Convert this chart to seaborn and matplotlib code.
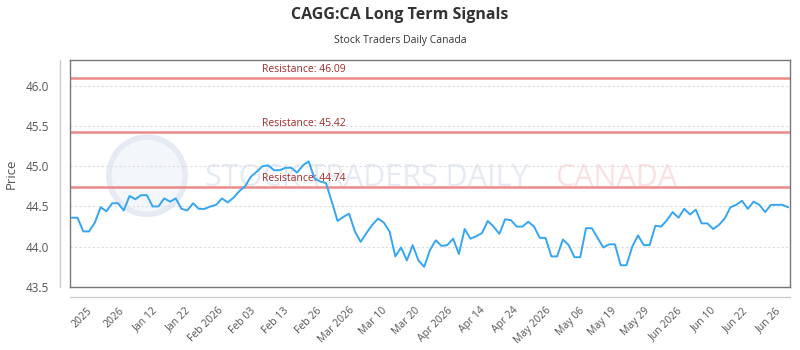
import numpy as np
import pandas as pd
import matplotlib.pyplot as plt
import seaborn as sns
from matplotlib.lines import Line2D
from matplotlib.patches import Ellipse

# Precio de cierre
precios = [44.36, 44.36, 44.19, 44.19, 44.30, 44.49, 44.44, 44.54, 44.54, 44.45,
           44.63, 44.59, 44.64, 44.64, 44.50, 44.50, 44.60, 44.56, 44.60, 44.47,
           44.45, 44.54, 44.47, 44.47, 44.50, 44.52, 44.60, 44.55, 44.61, 44.69,
           44.75, 44.87, 44.93, 45.00, 45.01, 44.95, 44.95, 44.98, 44.98, 44.92,
           45.01, 45.06, 44.85, 44.81, 44.79, 44.56, 44.32, 44.37, 44.41, 44.19,
           44.06, 44.17, 44.27, 44.35, 44.30, 44.19, 43.88, 43.99, 43.83, 44.02,
           43.83, 43.75, 43.96, 44.08, 44.01, 44.02, 44.10, 43.91, 44.22, 44.10,
           44.13, 44.17, 44.32, 44.25, 44.16, 44.34, 44.33, 44.25, 44.25, 44.31,
           44.25, 44.11, 44.11, 43.88, 43.88, 44.09, 44.02, 43.87, 43.87, 44.23,
           44.23, 44.11, 43.99, 44.03, 44.03, 43.77, 43.77, 44.00, 44.14, 44.02,
           44.02, 44.26, 44.25, 44.33, 44.43, 44.36, 44.47, 44.40, 44.46, 44.29,
           44.29, 44.22, 44.27, 44.35, 44.49, 44.52, 44.57, 44.47, 44.56, 44.52,
           44.43, 44.52, 44.52, 44.52, 44.49]

etiquetas_x = ['2025', '2026', 'Jan 12', 'Jan 22', 'Feb 2026', 'Feb 03', 'Feb 13', 'Feb 26',
               'Mar 2026', 'Mar 10', 'Mar 20', 'Apr 2026', 'Apr 14', 'Apr 24', 'May 2026',
               'May 06', 'May 19', 'May 29', 'Jun 2026', 'Jun 10', 'Jun 22', 'Jun 26']

resistencias = [46.09, 45.42, 44.74]

df = pd.DataFrame({'dia': np.arange(len(precios)), 'precio': precios})

sns.set_theme(style="white")
plt.rcParams['font.family'] = ['Open Sans', 'DejaVu Sans']

fig = plt.figure(figsize=(8, 3.5), dpi=100)
ax = fig.add_axes([0.0875, 0.18, 0.9, 0.649])

# Marca de agua
ax.add_patch(Ellipse((0.107, 0.49), 0.106, 0.34, transform=ax.transAxes, facecolor='#f3f6fa',
                     edgecolor='#e6ebf3', linewidth=4, zorder=0))
ax.text(0.188, 0.48, 'STOCK TRADERS DAILY', transform=ax.transAxes, fontsize=22,
        color='#e6ebf3', va='center', ha='left', zorder=0)
ax.text(0.674, 0.48, 'CANADA', transform=ax.transAxes, fontsize=22,
        color='#fbe2e2', va='center', ha='left', zorder=0)

sns.lineplot(data=df, x='dia', y='precio', ax=ax, color='#35a6f2', linewidth=1.4, zorder=3)

for r in resistencias:
    ax.axhline(r, color='#ec8a8a', linewidth=1.8, zorder=2)
    ax.text(33, r + 0.04, f'Resistance: {r:.2f}', color='#a52a2a', fontsize=7.5,
            ha='left', va='bottom', zorder=4)

ax.set_xlim(-0.3, len(precios) - 0.7)
ax.set_ylim(43.5, 46.32)
ax.set_yticks(np.arange(43.5, 46.01, 0.5))
ax.set_yticklabels([f'{v:.1f}' for v in np.arange(43.5, 46.01, 0.5)])
ax.yaxis.grid(True, color='#dddddd', linestyle=(0, (2, 2)), linewidth=0.8)

posiciones = np.linspace(2.5, 121.8, len(etiquetas_x))
ax.set_xticks(posiciones)
ax.set_xticklabels(etiquetas_x, rotation=45, ha='right', rotation_mode='anchor')
ax.tick_params(axis='x', length=0, pad=13, labelsize=7.5, labelcolor='#555555')
ax.tick_params(axis='y', length=0, pad=15, labelsize=8.5, labelcolor='#555555')

for s in ax.spines.values():
    s.set_color('#777777')
    s.set_linewidth(1)

ax.set_xlabel('')
ax.set_ylabel('Price', fontsize=9.5, color='#555555', labelpad=6)

# Ejes desplazados (estilo del original)
fig.add_artist(Line2D([60 / 800, 60 / 800], [1 - 60 / 350, 1 - 287 / 350], color='#cccccc', linewidth=1))
fig.add_artist(Line2D([70 / 800, 790 / 800], [1 - 297 / 350, 1 - 297 / 350], color='#cccccc', linewidth=1))

fig.text(0.5, 1 - 15 / 350, 'CAGG:CA Long Term Signals', ha='center', va='center',
         fontsize=11.5, fontweight='bold', color='#333333')
fig.text(0.5, 1 - 40 / 350, 'Stock Traders Daily Canada', ha='center', va='center',
         fontsize=7.5, color='#333333')

plt.savefig('out.png', dpi=100)
